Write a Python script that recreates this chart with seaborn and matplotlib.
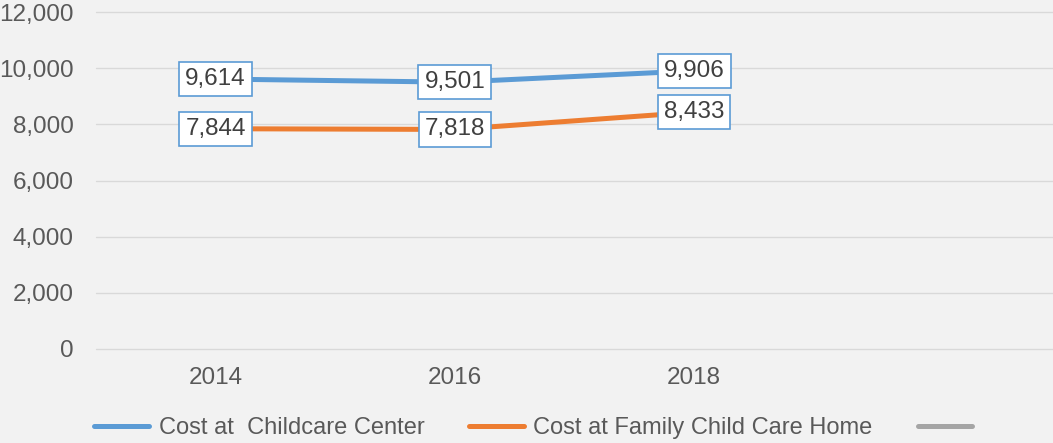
import matplotlib
matplotlib.use("Agg")
import matplotlib.pyplot as plt
from matplotlib.lines import Line2D
import pandas as pd
import seaborn as sns

# === Data ===
years = ["2014", "2016", "2018", ""]
center_cost = [9614, 9501, 9906]
family_cost = [7844, 7818, 8433]
series_names = ["Cost at  Childcare Center", "Cost at Family Child Care Home", ""]
colors = ["#5b9bd5", "#ed7d31", "#a5a5a5"]

sns.set_theme(style="white")
plt.rcParams["font.family"] = ["Liberation Sans", "DejaVu Sans"]
text_color = "#595959"
bg = "#f2f2f2"

df = pd.DataFrame({
    "pos": list(range(len(center_cost))) * 2,
    "cost": center_cost + family_cost,
    "series": [series_names[0]] * len(center_cost) + [series_names[1]] * len(family_cost),
})

fig = plt.figure(figsize=(10.53, 4.43), dpi=100, facecolor=bg)
ax = fig.add_axes([0.0912, 0.2122, 0.9088, 0.7607], facecolor=bg)

sns.lineplot(data=df, x="pos", y="cost", hue="series",
             palette=colors[:2], hue_order=series_names[:2],
             linewidth=3.6, ax=ax, legend=False)

# data labels
for vals in (center_cost, family_cost):
    for i, v in enumerate(vals):
        ax.text(i, v, f"{v:,}", ha="center", va="center", fontsize=17.5,
                color="#404040",
                bbox=dict(boxstyle="square,pad=0.25", facecolor="white",
                          edgecolor="#5b9bd5", linewidth=1.2))

ax.set_xlim(-0.5, len(years) - 0.5)
ax.set_ylim(0, 12000)
ax.set_yticks(range(0, 12001, 2000))
ax.set_yticklabels([f"{t:,}" for t in range(0, 12001, 2000)])
ax.set_xticks(range(len(years)))
ax.set_xticklabels(years)
ax.tick_params(axis="y", length=0, pad=16, labelsize=17.5, labelcolor=text_color)
ax.tick_params(axis="x", length=0, pad=13, labelsize=17.5, labelcolor=text_color)
ax.set_xlabel("")
ax.set_ylabel("")
ax.grid(axis="y", color="#d9d9d9", linewidth=1)
for gl in ax.get_ygridlines():
    gl.set_clip_on(False)
ax.set_axisbelow(True)
for s in ax.spines.values():
    s.set_visible(False)

handles = [Line2D([0], [0], color=c, linewidth=3.6, solid_capstyle="round") for c in colors]
fig.legend(handles, series_names, loc="center", bbox_to_anchor=(0.511, 0.034),
           ncol=3, frameon=False, fontsize=17, labelcolor=text_color,
           handlelength=2.3, handletextpad=0.42, columnspacing=1.9)

fig.savefig("out.png", dpi=100, facecolor=bg)
